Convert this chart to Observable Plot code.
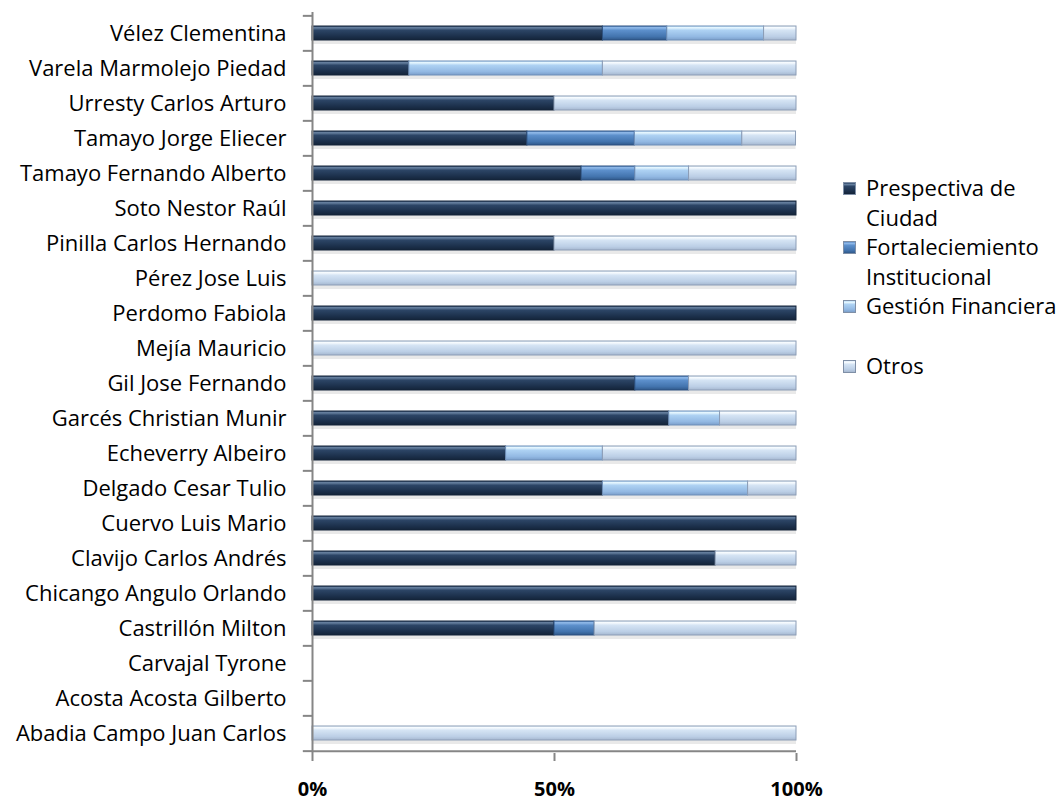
<!DOCTYPE html>
<html>
<head>
<meta charset="utf-8">
<script src="https://cdn.jsdelivr.net/npm/d3@7"></script>
<script src="https://cdn.jsdelivr.net/npm/@observablehq/plot@0.6"></script>
<style>
  body { margin: 0; background: #fff; font-family: "Open Sans", sans-serif; }
  #wrap { position: relative; width: 1064px; height: 805px; }
  #chart { position: absolute; left: 0; top: 0; }
  #legend { position: absolute; left: 843px; top: 173px; font-size: 22px; color: #000; line-height: 29.6px; white-space: nowrap; }
  .li { position: relative; padding-left: 23px; }
  .sw { position: absolute; left: 0; top: 9px; width: 11px; height: 11px; border: 1px solid #7f8fa6; }
</style>
</head>
<body>
<div id="wrap">
  <div id="chart"></div>
  <div id="legend"></div>
</div>
<script>
const names = ["Vélez Clementina","Varela Marmolejo Piedad","Urresty Carlos Arturo","Tamayo Jorge Eliecer","Tamayo Fernando Alberto","Soto Nestor Raúl","Pinilla Carlos Hernando","Pérez Jose Luis","Perdomo Fabiola","Mejía Mauricio","Gil Jose Fernando","Garcés Christian Munir","Echeverry Albeiro","Delgado Cesar Tulio","Cuervo Luis Mario","Clavijo Carlos Andrés","Chicango Angulo Orlando","Castrillón Milton","Carvajal Tyrone","Acosta Acosta Gilberto","Abadia Campo Juan Carlos"];
const series = ["Prespectiva de Ciudad","Fortaleciemiento Institucional","Gestión Financiera","Otros"];
const perspectiva = [60,20,50,44.4,55.6,100,50,0,100,0,66.7,73.7,40,60,100,83.3,100,50,0,0,0];
const fortalecimiento = [13.3,0,0,22.2,11.1,0,0,0,0,0,11.1,0,0,0,0,0,0,8.3,0,0,0];
const gestion = [20,40,0,22.2,11.1,0,0,0,0,0,0,10.5,20,30,0,0,0,0,0,0,0];
const otros = [6.7,40,50,11.1,22.2,0,50,100,0,100,22.2,15.8,40,10,0,16.7,0,41.7,0,0,100];
const xTicks = [0,50,100];

const seriesValues = [perspectiva, fortalecimiento, gestion, otros];
const rows = [];
names.forEach((n,i) => series.forEach((s,j) => {
  if (seriesValues[j][i] > 0) rows.push({name: n, series: s, value: seriesValues[j][i]});
}));

const grads = [
  [["0","#2a4263"],["0.12","#6a84a3"],["0.3","#2c4566"],["0.75","#1b2f4a"],["1","#142439"]],
  [["0","#5a8cc8"],["0.12","#92bbea"],["0.3","#5d90cc"],["0.75","#4374ae"],["1","#30598a"]],
  [["0","#bde0fa"],["0.12","#e8f8ff"],["0.3","#aed2f3"],["0.75","#93b9e3"],["1","#7b9fcb"]],
  [["0","#e4f1fc"],["0.12","#f8fcff"],["0.3","#d5e4f4"],["0.75","#bccfe6"],["1","#a6b8d0"]]
];
const strokes = ["#14243a","#2d5180","#6f8fb8","#8c9db6"];

const W = 840, H = 805, ML = 312, MR = 44, MT = 12, MB = 52;
const step = (H - MT - MB) / names.length;

const plot = Plot.plot({
  width: W, height: H,
  marginLeft: ML, marginRight: MR, marginTop: MT, marginBottom: MB,
  style: {fontFamily: "Open Sans, sans-serif", fontSize: "22px", color: "#000", background: "transparent"},
  x: {domain: [0,100], axis: null, label: null},
  y: {domain: names, paddingInner: 0.6, paddingOuter: 0.3, axis: null, label: null},
  color: {domain: series, range: [0,1,2,3].map(i => `url(#g${i})`)},
  marks: [
    Plot.barX(rows, Plot.stackX({y: "name", x: "value", z: "series", order: series, fill: "#b5b5b5", fillOpacity: 0.3, dy: 4})),
    Plot.barX(rows, Plot.stackX({y: "name", x: "value", order: series, fill: "series", stroke: "series", strokeWidth: 1})),
    Plot.axisY({tickSize: 0, tickPadding: 26, fontSize: 22, textAnchor: "end", label: null}),
    Plot.ruleX([0], {stroke: "#868686", strokeWidth: 2}),
    Plot.ruleY(names, {y: d => d, x1: -1.9, x2: 0, dy: -step/2, stroke: "#868686", strokeWidth: 2}),
    Plot.ruleY([names[names.length-1]], {y: d => d, x1: -1.9, x2: 0, dy: step/2, stroke: "#868686", strokeWidth: 2}),
    Plot.ruleY([names[names.length-1]], {y: d => d, x1: 0, x2: 100, dy: step/2, stroke: "#868686", strokeWidth: 2}),
    Plot.axisX({ticks: xTicks, tickFormat: d => d + "%", tickSize: 8, tickPadding: 20, stroke: "#868686", strokeWidth: 2, fontSize: 20, fontWeight: "bold", label: null})
  ]
});

const ns = "http://www.w3.org/2000/svg";
const svg = plot.tagName.toLowerCase() === "svg" ? plot : plot.querySelector("svg");
const defs = document.createElementNS(ns, "defs");
grads.forEach((stops, i) => {
  const g = document.createElementNS(ns, "linearGradient");
  g.setAttribute("id", "g" + i);
  g.setAttribute("x1", "0"); g.setAttribute("y1", "0"); g.setAttribute("x2", "0"); g.setAttribute("y2", "1");
  stops.forEach(([o, c]) => {
    const s = document.createElementNS(ns, "stop");
    s.setAttribute("offset", o); s.setAttribute("stop-color", c);
    g.appendChild(s);
  });
  defs.appendChild(g);
});
svg.insertBefore(defs, svg.firstChild);
svg.querySelectorAll("rect").forEach(r => {
  const st = r.getAttribute("stroke");
  if (st && st.startsWith("url(#g")) r.setAttribute("stroke", strokes[+st.slice(6, 7)]);
});
document.getElementById("chart").appendChild(plot);

const legendItems = [["Prespectiva de","Ciudad"],["Fortaleciemiento","Institucional"],["Gestión Financiera",""],["Otros"]];
const leg = document.getElementById("legend");
legendItems.forEach((lines, i) => {
  const d = document.createElement("div");
  d.className = "li";
  const sw = document.createElement("span");
  sw.className = "sw";
  sw.style.background = `linear-gradient(${grads[i].map(([o,c]) => c + " " + (o*100) + "%").join(",")})`;
  d.appendChild(sw);
  lines.forEach(t => {
    const ln = document.createElement("div");
    ln.textContent = t || "\u00a0";
    d.appendChild(ln);
  });
  leg.appendChild(d);
});
</script>
</body>
</html>
